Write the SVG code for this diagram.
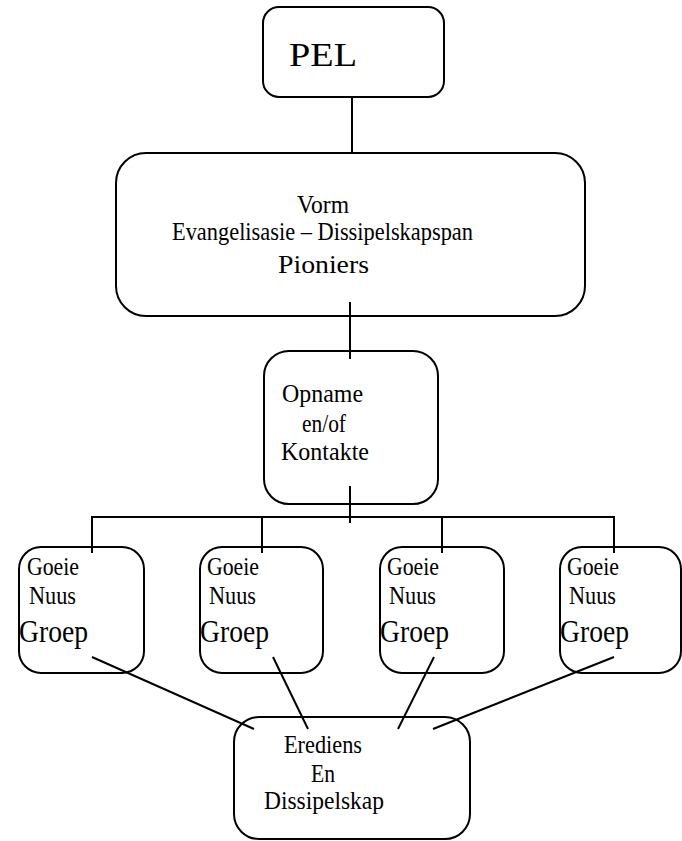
<svg xmlns="http://www.w3.org/2000/svg" width="682" height="841" viewBox="0 0 682 841">
<style>
.box{fill:#fff;stroke:#000;stroke-width:2}
.ln{stroke:#000;stroke-width:2;fill:none}
text{font-family:"Liberation Serif","Times New Roman",serif;fill:#000}
.t{font-size:25px}
.g{font-size:31px}
</style>
<rect width="682" height="841" fill="#fff"/>
<g id="pel">
<rect class="box" x="263" y="7" width="181" height="90" rx="16"/>
<text x="289" y="66" font-size="33" textLength="68" lengthAdjust="spacingAndGlyphs">PEL</text>
</g>
<g id="vorm">
<rect class="box" x="116" y="153" width="469" height="163" rx="30"/>
<text class="t" x="297" y="213" textLength="52" lengthAdjust="spacingAndGlyphs">Vorm</text>
<text class="t" x="172" y="240" textLength="301" lengthAdjust="spacingAndGlyphs">Evangelisasie – Dissipelskapspan</text>
<text x="278" y="273" font-size="26" textLength="91" lengthAdjust="spacingAndGlyphs">Pioniers</text>
</g>
<g id="opname">
<rect class="box" x="264" y="351" width="174" height="153" rx="25"/>
<text class="t" x="282" y="402" textLength="81" lengthAdjust="spacingAndGlyphs">Opname</text>
<text class="t" x="302" y="432" textLength="44" lengthAdjust="spacingAndGlyphs">en/of</text>
<text class="t" x="281" y="460" textLength="88" lengthAdjust="spacingAndGlyphs">Kontakte</text>
</g>
<g id="groep1">
<rect class="box" x="19" y="547" width="125" height="126" rx="22"/>
<text class="t" x="27" y="575" textLength="52" lengthAdjust="spacingAndGlyphs">Goeie</text>
<text class="t" x="29" y="604" textLength="47" lengthAdjust="spacingAndGlyphs">Nuus</text>
<text class="g" x="19" y="642" textLength="69" lengthAdjust="spacingAndGlyphs">Groep</text>
</g>
<g id="groep2">
<rect class="box" x="200" y="547" width="123" height="126" rx="22"/>
<text class="t" x="207" y="575" textLength="52" lengthAdjust="spacingAndGlyphs">Goeie</text>
<text class="t" x="209" y="604" textLength="47" lengthAdjust="spacingAndGlyphs">Nuus</text>
<text class="g" x="200" y="642" textLength="69" lengthAdjust="spacingAndGlyphs">Groep</text>
</g>
<g id="groep3">
<rect class="box" x="380" y="547" width="124" height="126" rx="22"/>
<text class="t" x="387" y="575" textLength="52" lengthAdjust="spacingAndGlyphs">Goeie</text>
<text class="t" x="389" y="604" textLength="47" lengthAdjust="spacingAndGlyphs">Nuus</text>
<text class="g" x="380" y="642" textLength="69" lengthAdjust="spacingAndGlyphs">Groep</text>
</g>
<g id="groep4">
<rect class="box" x="560" y="547" width="121" height="126" rx="22"/>
<text class="t" x="567" y="575" textLength="52" lengthAdjust="spacingAndGlyphs">Goeie</text>
<text class="t" x="569" y="604" textLength="47" lengthAdjust="spacingAndGlyphs">Nuus</text>
<text class="g" x="560" y="642" textLength="69" lengthAdjust="spacingAndGlyphs">Groep</text>
</g>
<g id="erediens">
<rect class="box" x="234" y="717" width="236" height="122" rx="25"/>
<text class="t" x="284" y="753" textLength="78" lengthAdjust="spacingAndGlyphs">Erediens</text>
<text class="t" x="311" y="782" textLength="24" lengthAdjust="spacingAndGlyphs">En</text>
<text class="t" x="264" y="809" textLength="120" lengthAdjust="spacingAndGlyphs">Dissipelskap</text>
</g>
<g id="connectors">
<line class="ln" x1="352" y1="97" x2="352" y2="153"/>
<line class="ln" x1="350" y1="302" x2="350" y2="359"/>
<line class="ln" x1="350" y1="486" x2="350" y2="523"/>
<polyline class="ln" points="92,553 92,517 614,517 614,553"/>
<line class="ln" x1="262" y1="517" x2="262" y2="553"/>
<line class="ln" x1="442" y1="517" x2="442" y2="553"/>
<line class="ln" x1="92" y1="657" x2="254" y2="729"/>
<line class="ln" x1="273" y1="657" x2="308" y2="729"/>
<line class="ln" x1="434" y1="657" x2="398" y2="729"/>
<line class="ln" x1="614" y1="657" x2="433" y2="729"/>
</g>
</svg>
